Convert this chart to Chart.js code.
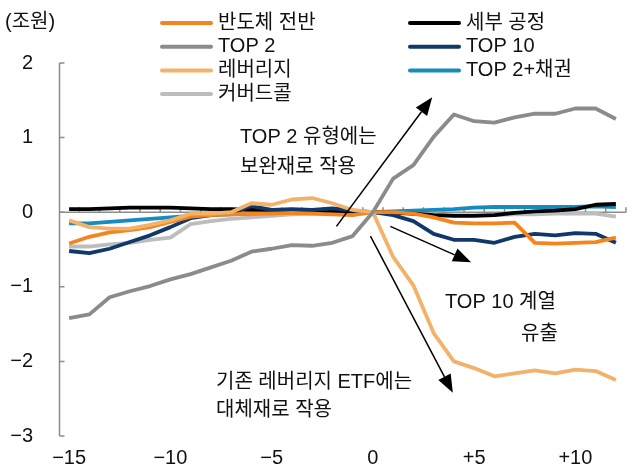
<!DOCTYPE html>
<html>
<head>
<meta charset="utf-8">
<script src="https://cdn.jsdelivr.net/npm/chart.js@4.4.1/dist/chart.umd.min.js"></script>
<style>
  html, body { margin: 0; padding: 0; background: #fff; }
  #wrap { width: 644px; height: 468px; position: relative; }
</style>
</head>
<body>
<div id="wrap"><canvas id="myChart" width="644" height="468"></canvas></div>
<script>
// 상장 전후 기간 (0 = 상장일)
const periods = [-15, -14, -13, -12, -11, -10, -9, -8, -7, -6, -5, -4, -3, -2, -1,
  0, 1, 2, 3, 4, 5, 6, 7, 8, 9, 10, 11, 12];
const xTicks = [-15, -10, -5, 0, 5, 10];
const yTicks = [-3, -2, -1, 0, 1, 2];

// 유형별 순유입 (조원)
const semiAll = [-0.42, -0.33, -0.27, -0.24, -0.20, -0.13, -0.06, -0.04, -0.03, -0.02, -0.02, -0.01, -0.02, -0.03, -0.04,
  0, 0.00, -0.02, -0.07, -0.14, -0.15, -0.15, -0.14, -0.41, -0.42, -0.41, -0.40, -0.34];
const subProcess = [0.04, 0.04, 0.05, 0.06, 0.06, 0.06, 0.05, 0.04, 0.04, 0.03, 0.03, 0.02, 0.02, 0.01, 0.01,
  0, -0.01, -0.02, -0.04, -0.05, -0.05, -0.04, -0.01, 0.01, 0.02, 0.04, 0.10, 0.11];
const top2 = [-1.42, -1.37, -1.14, -1.06, -0.99, -0.90, -0.83, -0.74, -0.65, -0.53, -0.49, -0.44, -0.45, -0.41, -0.32,
  0, 0.45, 0.63, 1.01, 1.31, 1.22, 1.20, 1.27, 1.32, 1.32, 1.39, 1.39, 1.25];
const top10 = [-0.52, -0.55, -0.49, -0.40, -0.31, -0.20, -0.08, -0.04, -0.01, 0.08, 0.03, 0.04, 0.03, 0.05, 0.02,
  0, -0.04, -0.12, -0.29, -0.37, -0.37, -0.41, -0.33, -0.29, -0.31, -0.28, -0.29, -0.41];
const leverage = [-0.11, -0.20, -0.22, -0.22, -0.17, -0.11, -0.02, -0.02, 0.00, 0.12, 0.10, 0.17, 0.19, 0.12, 0.03,
  0, -0.60, -0.98, -1.62, -2.00, -2.09, -2.20, -2.16, -2.12, -2.16, -2.11, -2.13, -2.25];
const top2Bond = [-0.15, -0.15, -0.13, -0.11, -0.09, -0.07, -0.05, -0.04, -0.03, -0.02, -0.01, -0.01, -0.01, 0.00, 0.00,
  0, 0.01, 0.02, 0.03, 0.04, 0.06, 0.07, 0.07, 0.07, 0.07, 0.07, 0.08, 0.07];
const coveredCall = [-0.46, -0.46, -0.43, -0.41, -0.37, -0.34, -0.16, -0.12, -0.09, -0.07, -0.05, -0.03, -0.02, -0.02, -0.01,
  0, -0.01, -0.02, -0.03, -0.04, -0.04, -0.04, -0.03, -0.03, -0.02, -0.02, -0.02, -0.06];

const FONT = '"Liberation Sans", "Noto Sans CJK KR", sans-serif';
const AXIS_COLOR = "#8c8c8c";

const toPoints = (arr) => arr.map((v, i) => ({ x: periods[i], y: v }));

// legend: [col, row]
const series = [
  { label: "TOP 2", data: top2, color: "#8a8b8d", pos: [0, 1] },
  { label: "레버리지", data: leverage, color: "#f2b26a", pos: [0, 2] },
  { label: "반도체 전반", data: semiAll, color: "#f5841f", pos: [0, 0] },
  { label: "TOP 10", data: top10, color: "#10386b", pos: [1, 1] },
  { label: "세부 공정", data: subProcess, color: "#000000", pos: [1, 0] },
  { label: "TOP 2+채권", data: top2Bond, color: "#168bbf", pos: [1, 2] },
  { label: "커버드콜", data: coveredCall, color: "#bdbdbd", pos: [0, 3] },
];

// annotations (data coordinates)
const arrows = [
  { from: [-1.8, -0.19], to: [2.93, 1.54] },
  { from: [0.86, -0.19], to: [4.85, -0.67] },
  { from: [-0.12, -0.32], to: [3.95, -2.42] },
];
const notes = [
  { text: "TOP 2 유형에는", x: 240, y: 137 },
  { text: "보완재로 작용", x: 240, y: 167 },
  { text: "TOP 10 계열", x: 445, y: 302 },
  { text: "유출", x: 521, y: 334 },
  { text: "기존 레버리지 ETF에는", x: 216, y: 382 },
  { text: "대체재로 작용", x: 216, y: 410 },
];

const fmt = (v) => (v < 0 ? "\u2212" + Math.abs(v) : v > 0 ? "+" + v : "0");

const decorPlugin = {
  id: "decor",
  beforeDatasetsDraw(chart) {
    const { ctx, chartArea, scales } = chart;
    const x = scales.x, y = scales.y;
    ctx.save();
    ctx.strokeStyle = AXIS_COLOR;
    ctx.lineWidth = 1.5;
    // y axis
    const ax = chartArea.left + 0.5;
    ctx.beginPath();
    ctx.moveTo(ax, y.getPixelForValue(2));
    ctx.lineTo(ax, y.getPixelForValue(-3));
    yTicks.forEach((t) => {
      const py = y.getPixelForValue(t);
      ctx.moveTo(ax, py);
      ctx.lineTo(ax + 5, py);
    });
    ctx.stroke();
    // x axis at zero with category boundary ticks
    const zy = y.getPixelForValue(0);
    ctx.beginPath();
    ctx.moveTo(ax, zy);
    ctx.lineTo(x.getPixelForValue(12.5), zy);
    for (let i = 0; i < periods.length; i++) {
      const px = x.getPixelForValue(periods[i] + 0.5);
      ctx.moveTo(px, zy);
      ctx.lineTo(px, zy - 5);
    }
    ctx.stroke();
    ctx.restore();
  },
  afterDatasetsDraw(chart) {
    const { ctx, scales } = chart;
    const x = scales.x, y = scales.y;
    ctx.save();
    // arrows
    ctx.strokeStyle = "#000";
    ctx.fillStyle = "#000";
    ctx.lineWidth = 1.5;
    arrows.forEach((a) => {
      const x1 = x.getPixelForValue(a.from[0]), y1 = y.getPixelForValue(a.from[1]);
      const x2 = x.getPixelForValue(a.to[0]), y2 = y.getPixelForValue(a.to[1]);
      const ang = Math.atan2(y2 - y1, x2 - x1);
      const len = 18, hw = 7;
      const bx = x2 - len * Math.cos(ang), by = y2 - len * Math.sin(ang);
      ctx.beginPath();
      ctx.moveTo(x1, y1);
      ctx.lineTo(bx, by);
      ctx.stroke();
      ctx.beginPath();
      ctx.moveTo(x2, y2);
      ctx.lineTo(bx + hw * Math.sin(ang), by - hw * Math.cos(ang));
      ctx.lineTo(bx - hw * Math.sin(ang), by + hw * Math.cos(ang));
      ctx.closePath();
      ctx.fill();
    });
    // notes
    ctx.font = "20px " + FONT;
    ctx.fillStyle = "#111";
    ctx.textBaseline = "middle";
    ctx.textAlign = "left";
    notes.forEach((n) => ctx.fillText(n.text, n.x, n.y));
    // unit
    ctx.fillText("(조원)", 5, 22);
    // legend
    series.forEach((s) => {
      const lx = s.pos[0] === 0 ? 160 : 408;
      const ly = 23 + s.pos[1] * 23.7;
      ctx.strokeStyle = s.color;
      ctx.lineWidth = 4;
      ctx.lineCap = "round";
      ctx.beginPath();
      ctx.moveTo(lx + 2, ly);
      ctx.lineTo(lx + 51, ly);
      ctx.stroke();
      ctx.fillStyle = "#111";
      ctx.fillText(s.label, lx + 58, ly);
    });
    ctx.restore();
  },
};

new Chart(document.getElementById("myChart"), {
  type: "line",
  data: {
    datasets: series.map((s) => ({
      label: s.label,
      data: toPoints(s.data),
      borderColor: s.color,
      backgroundColor: s.color,
      borderWidth: 3.8,
      pointRadius: 0,
      tension: 0,
      borderJoinStyle: "round",
    })),
  },
  options: {
    responsive: false,
    animation: false,
    events: [],
    layout: { padding: { top: 63, right: 18, left: 0, bottom: 0 } },
    plugins: { legend: { display: false }, tooltip: { enabled: false } },
    scales: {
      x: {
        type: "linear",
        min: -15.5,
        max: 12.5,
        grid: { display: false, drawTicks: false },
        border: { display: false },
        afterBuildTicks: (s) => { s.ticks = xTicks.map((v) => ({ value: v })); },
        afterFit: (s) => { s.height = 32; },
        ticks: {
          padding: 10,
          color: "#111",
          font: { family: FONT, size: 20 },
          maxRotation: 0,
          autoSkip: false,
          callback: (v) => fmt(v),
        },
      },
      y: {
        min: -3,
        max: 2,
        grid: { display: false, drawTicks: false },
        border: { display: false },
        afterBuildTicks: (s) => { s.ticks = yTicks.map((v) => ({ value: v })); },
        afterFit: (s) => { s.width = 59; s.paddingTop = 0; s.paddingBottom = 0; },
        ticks: {
          padding: 26,
          color: "#111",
          font: { family: FONT, size: 20 },
          callback: (v) => (v < 0 ? "\u2212" + Math.abs(v) : String(v)),
        },
      },
    },
  },
  plugins: [decorPlugin],
});
</script>
</body>
</html>
